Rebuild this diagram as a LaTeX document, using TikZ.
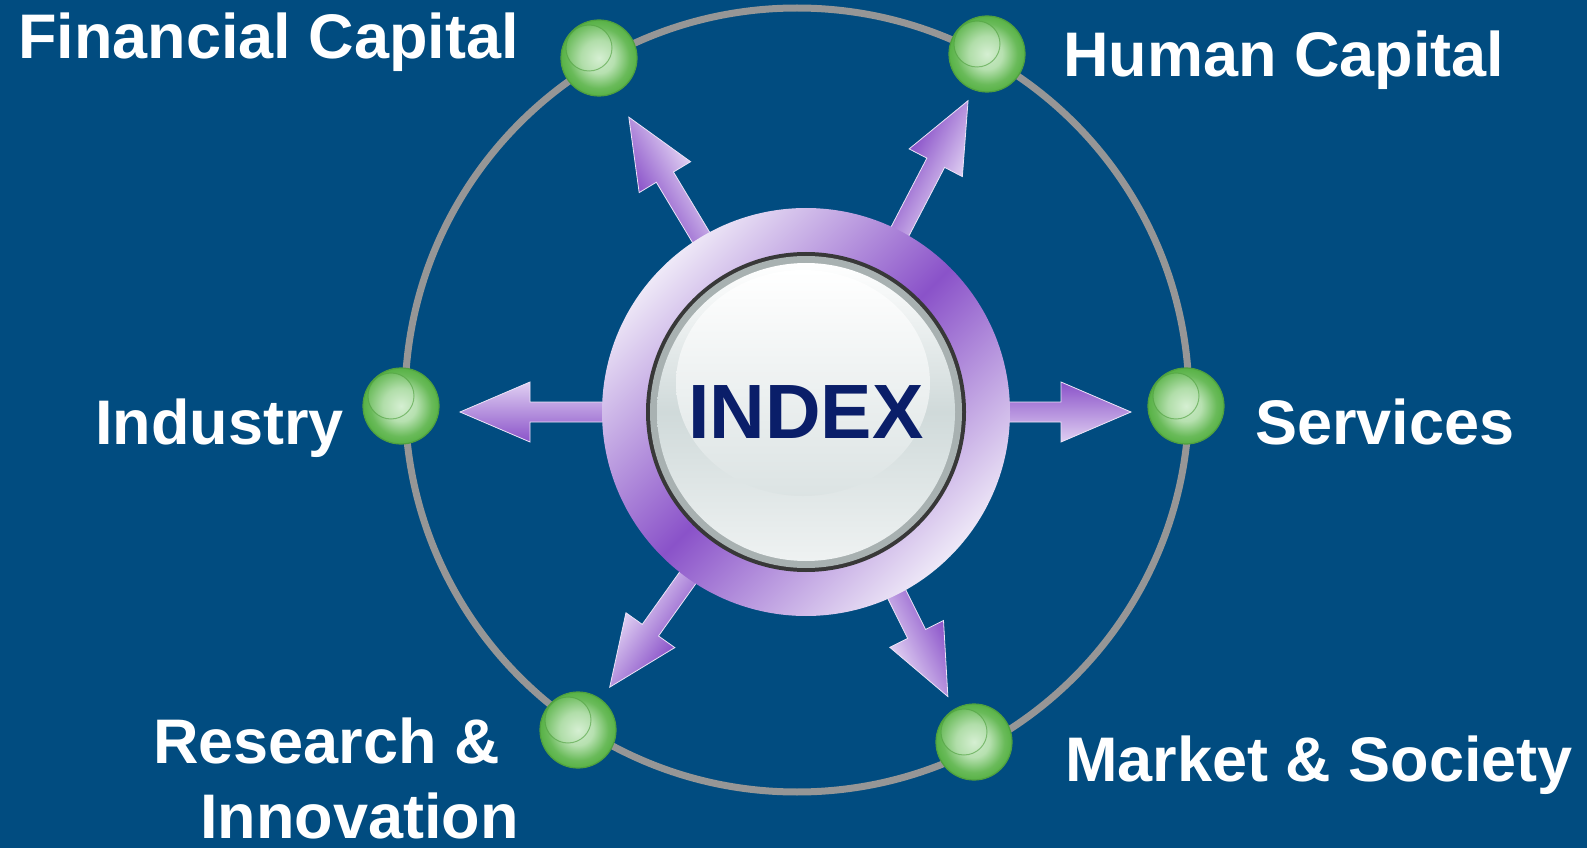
\documentclass[tikz,border=0pt]{standalone}
\usepackage{fontspec}
\setmainfont{Liberation Sans}
\usetikzlibrary{positioning,shapes.geometric,calc}

\definecolor{bgblue}{RGB}{1,76,128}
\definecolor{orbitgray}{RGB}{150,150,150}
\definecolor{purpD}{RGB}{138,82,201}
\definecolor{purpL}{RGB}{238,232,247}
\definecolor{arrowL}{RGB}{224,208,242}
\definecolor{ballG}{RGB}{88,178,70}
\definecolor{ballL}{RGB}{206,236,202}
\definecolor{indexblue}{RGB}{10,30,105}
\definecolor{rimgray}{RGB}{168,177,177}
\definecolor{discgray}{RGB}{208,218,218}

\pgfdeclareradialshading{ballouter}{\pgfpoint{0bp}{0bp}}{color(0bp)=(ballL);color(10bp)=(ballL!80!ballG);color(20bp)=(ballG!85!ballL);color(25bp)=(ballG);color(50bp)=(ballG)}
\pgfdeclareradialshading{ballinner}{\pgfpoint{0bp}{0bp}}{color(0bp)=(ballL!85!white);color(12bp)=(ballL!75!ballG);color(25bp)=(ballG!90!ballL);color(50bp)=(ballG)}

\begin{document}
\begin{tikzpicture}
[x=0.5pt,y=0.5pt,
 label/.style={text=white,font=\fontsize{31.5pt}{38.5pt}\selectfont\bfseries,inner sep=0pt,anchor=base west},
 ball/.style={circle,minimum size=38pt,inner sep=0pt,draw=ballG!90!black,line width=0.6pt,
   shading=ballouter,
   path picture={\shade[shading=ballinner]
     ([shift={(-5pt,5pt)}]path picture bounding box.center) circle (11.5pt);
     \draw[ballG!90!black,line width=0.5pt,opacity=0.6]
     ([shift={(-5pt,5pt)}]path picture bounding box.center) circle (11.5pt);}},
 fatarrow/.style={top color=purpD,bottom color=arrowL,draw=arrowL!60!white,line width=0.4pt},]
%Background
\fill[bgblue] (0,0) rectangle (1587,848);
\useasboundingbox (0,0) rectangle (1587,848);

%Orbit
\coordinate (orbit) at (797,448);
\coordinate (core) at (806,436);
\draw[orbitgray,line width=3.5pt] (orbit) circle (392);

%Balls on the orbit
\node (fin) at (599,790)[ball] {};
\node (hum) at (987,794)[ball] {};
\node (ind) at (401,442)[ball] {};
\node (ser) at (1186,442)[ball] {};
\node (res) at (578,118)[ball] {};
\node (mar) at (974,106)[ball] {};

%Fat arrows
\def\arrowbody#1{(180,-10) -- (#1-70,-10) -- (#1-70,-30) -- (#1,0) -- (#1-70,30) -- (#1-70,10) -- (180,10) -- cycle}
\begin{scope}[transform canvas={shift={(core)},rotate=121}]
\shade[fatarrow] \arrowbody{344};
\end{scope}
\begin{scope}[transform canvas={shift={(core)},rotate=62.5}]
\shade[fatarrow] \arrowbody{351};
\end{scope}
\begin{scope}[transform canvas={shift={(core)},rotate=180}]
\shade[fatarrow] \arrowbody{346};
\end{scope}
\begin{scope}[transform canvas={shift={(core)},rotate=0}]
\shade[fatarrow] \arrowbody{325};
\end{scope}
\begin{scope}[transform canvas={shift={(core)},rotate=234.5}]
\shade[fatarrow] \arrowbody{338};
\end{scope}
\begin{scope}[transform canvas={shift={(core)},rotate=296.5}]
\shade[fatarrow] \arrowbody{318};
\end{scope}

%Purple ring
\shade[top color=purpL,bottom color=purpL,middle color=purpD,shading angle=45] (core) circle (204);

%Glass disc
\fill[black!78] (core) circle (160);
\fill[rimgray] (core) circle (156);
\shade[top color=white,bottom color=discgray!35!white,middle color=discgray] (core) circle (149);
\shade[top color=white,bottom color=discgray!75!white] ($(core)+(-3,29)$) ellipse (127 and 113);
\node (index) at (core)[inner sep=0pt,text=indexblue,font=\fontsize{38.5pt}{46pt}\selectfont\bfseries] {INDEX};

%Labels
\node (finL) at (18,789)[label] {Financial Capital};
\node (humL) at (1063,771)[label] {Human Capital};
\node (indL) at (95,404)[label] {Industry};
\node (serL) at (1255,404)[label] {Services};
\node (resL) at (153,85)[label] {Research \&};
\node (innL) at (200,10)[label] {Innovation};
\node (marL) at (1065,67)[label] {Market \& Society};
\end{tikzpicture}
\end{document}
